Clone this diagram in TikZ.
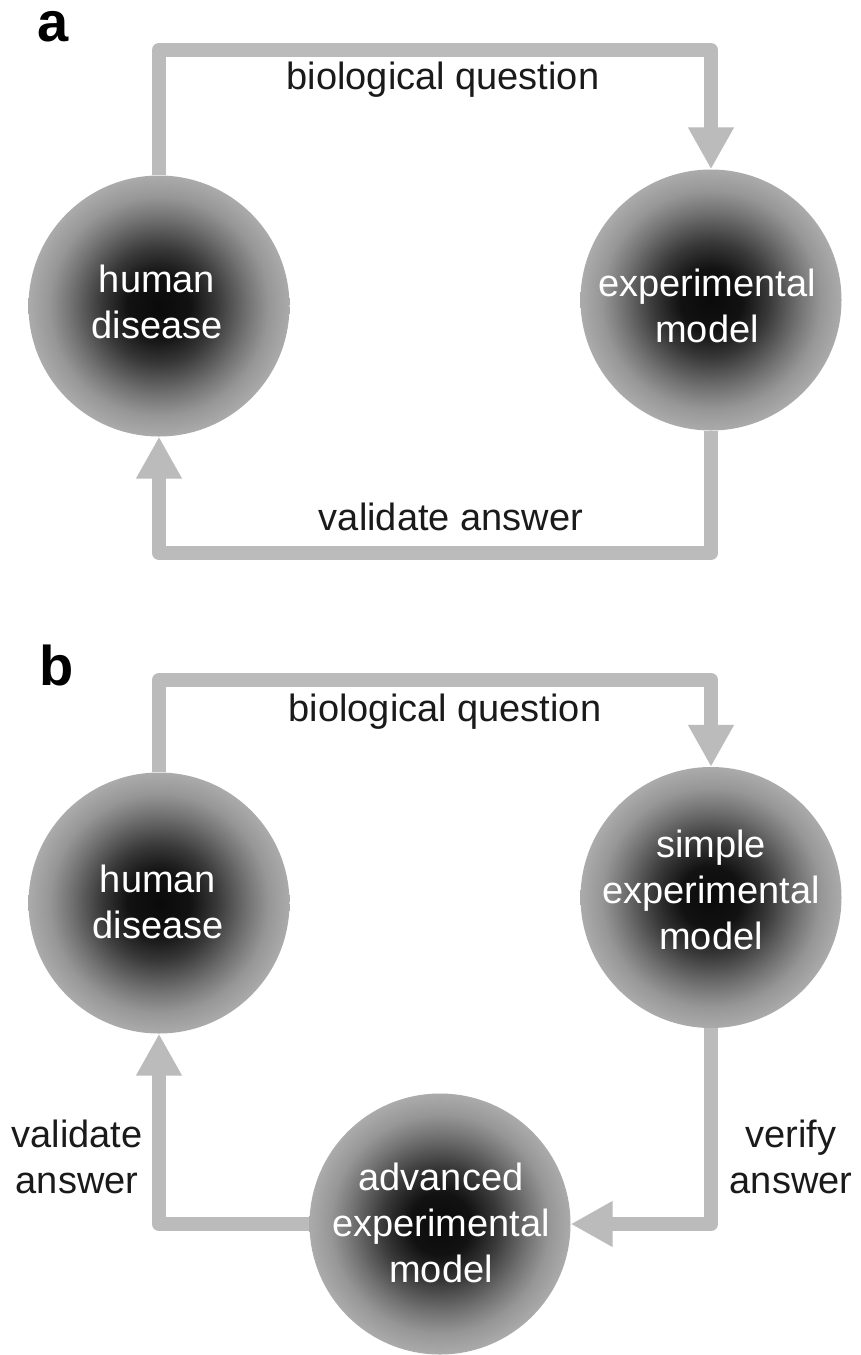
\documentclass[tikz,border=0pt]{standalone}
\usepackage{fontspec}
\setmainfont{Liberation Sans}
\usetikzlibrary{arrows.meta}
\definecolor{linegray}{RGB}{187,187,187}
\definecolor{txtdark}{RGB}{26,26,26}
\definecolor{shA}{gray}{0.04}
\definecolor{shB}{gray}{0.07}
\definecolor{shC}{gray}{0.22}
\definecolor{shD}{gray}{0.45}
\definecolor{shE}{gray}{0.59}
\definecolor{shF}{gray}{0.67}
\pgfdeclareradialshading{ballshade}{\pgfpoint{0bp}{0bp}}{color(0bp)=(shA); color(6bp)=(shB); color(11bp)=(shC); color(17bp)=(shD); color(21bp)=(shE); color(25bp)=(shF); color(50bp)=(shF)}
\begin{document}
\begin{tikzpicture}[x=1pt,y=-1pt,
  ball/.style={circle, minimum size=261pt, inner sep=0pt, shading=ballshade},
  conn/.style={draw=linegray, line width=14pt, line join=round, -{Triangle[width=43pt,length=42pt]}},
  intext/.style={text=white, align=center, font=\fontsize{38}{46}\selectfont, inner sep=0pt},
  outtext/.style={text=txtdark, align=center, font=\fontsize{38}{46}\selectfont, inner sep=0pt},
  panel/.style={text=black, font=\fontsize{56}{60}\selectfont\bfseries, inner sep=0pt}]
\useasboundingbox[fill=white] (0,0) rectangle (861,1355);

% panel labels
\node[panel] (la) at (53,27) {a};
\node[panel] (lb) at (57,665) {b};

% circles
\node[ball] (hdA) at (159,306) {};
\node[ball] (emA) at (711,300) {};
\node[ball] (hdB) at (159,903) {};
\node[ball] (semB) at (711,897.5) {};
\node[ball] (aemB) at (440,1224) {};

% circle texts
\node[intext] (hdAt) at (157,302) {human\\disease};
\node[intext] (emAt) at (707,306) {experimental\\model};
\node[intext] (hdBt) at (158,902) {human\\disease};
\node[intext] (semBt) at (711,890) {simple\\experimental\\model};
\node[intext] (aemBt) at (441,1223) {advanced\\experimental\\model};

% connectors panel a
\coordinate (ta) at (435,50);
\coordinate (ba) at (435,553);
\draw[conn] (hdA.north) |- (ta) -| (emA.north);
\draw[conn] (emA.south) |- (ba) -| (hdA.south);

% connectors panel b
\coordinate (tb) at (435,680);
\draw[conn] (hdB.north) |- (tb) -| (semB.north);
\draw[conn] (semB.south) |- (aemB.east);
\draw[conn] (aemB.west) -| (hdB.south);

% edge labels
\node[outtext, anchor=base] (qa) at (443,89) {biological question};
\node[outtext, anchor=base] (va) at (451,530) {validate answer};
\node[outtext, anchor=base] (qb) at (445,721) {biological question};
\node[outtext] (vb) at (77,1157) {validate\\answer};
\node[outtext] (rb) at (791,1157) {verify\\answer};
\end{tikzpicture}
\end{document}
